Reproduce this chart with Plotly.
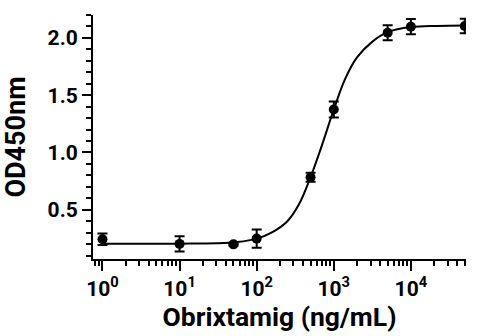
import plotly.graph_objects as go

# Measured points
conc = [1, 10, 50, 100, 500, 1000, 5000, 10000, 50000]
od = [0.242, 0.202, 0.198, 0.248, 0.784, 1.375, 2.045, 2.098, 2.104]
od_err = [0.05, 0.066, 0.01, 0.08, 0.04, 0.07, 0.066, 0.067, 0.064]

# Fitted curve
curve_conc = [1, 3, 10, 30, 56, 100, 160, 250, 355, 500, 700, 1000, 1400,
              2000, 3200, 5000, 10000, 22000, 50000]
curve_od = [0.203, 0.203, 0.204, 0.207, 0.218, 0.248, 0.305, 0.40, 0.55,
            0.785, 1.06, 1.375, 1.64, 1.83, 1.97, 2.05, 2.095, 2.105, 2.108]

x_tickvals = [1, 10, 100, 1000, 10000]
x_ticktext = ["10<sup>0</sup>", "10<sup>1</sup>", "10<sup>2</sup>",
              "10<sup>3</sup>", "10<sup>4</sup>"]
x_minor = [m * 10 ** k for k in range(-1, 5) for m in range(2, 10)]
y_tickvals = [0.5, 1.0, 1.5, 2.0]
y_ticktext = ["0.5", "1.0", "1.5", "2.0"]

FONT = "Roboto"
BLACK = "#000000"

fig = go.Figure()
fig.add_trace(go.Scatter(
    x=curve_conc, y=curve_od, mode="lines",
    line=dict(color=BLACK, width=2, shape="spline", smoothing=1.0),
    hoverinfo="skip", showlegend=False))
fig.add_trace(go.Scatter(
    x=conc, y=od, mode="markers",
    marker=dict(color=BLACK, size=10, symbol="circle"),
    error_y=dict(type="data", array=od_err, visible=True, color=BLACK,
                 thickness=2, width=5),
    showlegend=False))

fig.update_layout(
    width=479, height=336,
    margin=dict(l=93, r=13, t=15, b=77),
    paper_bgcolor="white", plot_bgcolor="white",
    font=dict(family=FONT, color=BLACK, size=20),
    xaxis=dict(
        type="log", range=[-0.123, 4.715],
        tickmode="array", tickvals=x_tickvals, ticktext=x_ticktext,
        ticks="outside", ticklen=10, tickwidth=2, tickcolor=BLACK,
        showline=True, linewidth=2, linecolor=BLACK,
        showgrid=False, zeroline=False,
        tickfont=dict(family=FONT, size=21, color=BLACK, weight="bold"),
        minor=dict(tickmode="array", tickvals=x_minor, ticks="outside",
                   ticklen=5, tickwidth=2, tickcolor=BLACK, showgrid=False),
        title=dict(text="Obrixtamig (ng/mL)", standoff=5,
                   font=dict(family=FONT, size=26.5, color=BLACK, weight="bold")),
    ),
    yaxis=dict(
        range=[0.07, 2.2],
        tickmode="array", tickvals=y_tickvals, ticktext=y_ticktext,
        ticks="outside", ticklen=9, tickwidth=2, tickcolor=BLACK,
        showline=True, linewidth=2, linecolor=BLACK,
        showgrid=False, zeroline=False,
        tickfont=dict(family=FONT, size=21, color=BLACK, weight="bold"),
        minor=dict(dtick=0.1, tick0=0, ticks="outside",
                   ticklen=5, tickwidth=2, tickcolor=BLACK, showgrid=False),
        title=dict(text="OD450nm", standoff=15,
                   font=dict(family=FONT, size=27, color=BLACK, weight="bold")),
    ),
)

fig.write_html("out.html")
